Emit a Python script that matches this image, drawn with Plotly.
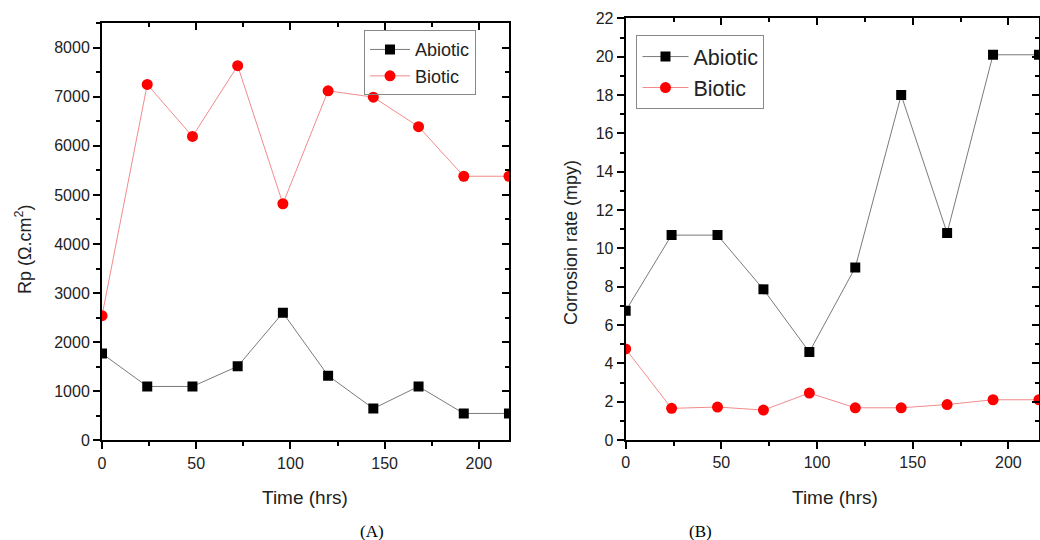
import plotly.graph_objects as go

time_hrs = [0, 24, 48, 72, 96, 120, 144, 168, 192, 216]
rp_abiotic = [1770, 1100, 1100, 1510, 2600, 1320, 650, 1100, 550, 550]
rp_biotic = [2540, 7250, 6190, 7630, 4820, 7120, 6990, 6390, 5380, 5380]
cr_abiotic = [6.74, 10.69, 10.69, 7.86, 4.59, 9.0, 18.0, 10.8, 20.1, 20.1]
cr_biotic = [4.75, 1.65, 1.72, 1.56, 2.45, 1.68, 1.68, 1.85, 2.10, 2.10]

x_ticks = [0, 50, 100, 150, 200]
rp_ticks = [0, 1000, 2000, 3000, 4000, 5000, 6000, 7000, 8000]
cr_ticks = [0, 2, 4, 6, 8, 10, 12, 14, 16, 18, 20, 22]

FONT = "Arial, Liberation Sans, sans-serif"
ab_line = "#7a7a7a"
bi_line = "#f28b8b"

fig = go.Figure()

fig.add_trace(go.Scatter(x=time_hrs, y=rp_abiotic, name="Abiotic", mode="lines+markers",
                         line=dict(color=ab_line, width=1),
                         marker=dict(symbol="square", size=10, color="black"),
                         xaxis="x", yaxis="y", legend="legend"))
fig.add_trace(go.Scatter(x=time_hrs, y=rp_biotic, name="Biotic", mode="lines+markers",
                         line=dict(color=bi_line, width=1),
                         marker=dict(symbol="circle", size=11, color="#ff0000"),
                         xaxis="x", yaxis="y", legend="legend"))
fig.add_trace(go.Scatter(x=time_hrs, y=cr_abiotic, name="Abiotic", mode="lines+markers",
                         line=dict(color=ab_line, width=1),
                         marker=dict(symbol="square", size=10, color="black"),
                         xaxis="x2", yaxis="y2", legend="legend2"))
fig.add_trace(go.Scatter(x=time_hrs, y=cr_biotic, name="Biotic", mode="lines+markers",
                         line=dict(color=bi_line, width=1),
                         marker=dict(symbol="circle", size=11, color="#ff0000"),
                         xaxis="x2", yaxis="y2", legend="legend2"))

# invisible helper traces so the mirrored (top/right) tick axes get drawn
for xa, ya, yv in (("x3", "y3", rp_biotic), ("x4", "y4", cr_abiotic)):
    fig.add_trace(go.Scatter(x=time_hrs, y=yv, mode="markers", marker=dict(opacity=0),
                             showlegend=False, hoverinfo="skip", xaxis=xa, yaxis=ya))

tickfont = dict(family=FONT, size=16, color="#222")

def main_x(domain, anchor):
    return dict(domain=domain, anchor=anchor, range=[0, 216], tickvals=x_ticks,
                ticks="outside", ticklen=7, tickwidth=1.5, tickcolor="black",
                minor=dict(dtick=25, tick0=0, ticks="outside", ticklen=4, tickwidth=1.5, tickcolor="black"),
                showline=True, linewidth=2, linecolor="black", showgrid=False, zeroline=False,
                tickfont=tickfont, automargin=False, mirror=True)

def main_y(domain, anchor, rng, vals, minor_dt):
    return dict(domain=domain, anchor=anchor, range=rng, tickvals=vals,
                ticks="outside", ticklen=7, tickwidth=1.5, tickcolor="black",
                minor=dict(dtick=minor_dt, tick0=0, ticks="outside", ticklen=4, tickwidth=1.5, tickcolor="black"),
                showline=True, linewidth=2, linecolor="black", showgrid=False, zeroline=False,
                tickfont=tickfont, automargin=False, mirror=True)

def mirror_x(domain, anchor):
    return dict(domain=domain, anchor=anchor, side="top", range=[0, 216], tickvals=x_ticks,
                ticks="inside", ticklen=7, tickwidth=1.5, tickcolor="black",
                minor=dict(dtick=25, tick0=0, ticks="inside", ticklen=4, tickwidth=1.5, tickcolor="black"),
                showticklabels=False, showline=False,
                showgrid=False, zeroline=False, automargin=False)

def mirror_y(domain, anchor, rng, vals, minor_dt):
    return dict(domain=domain, anchor=anchor, side="right", range=rng, tickvals=vals,
                ticks="inside", ticklen=7, tickwidth=1.5, tickcolor="black",
                minor=dict(dtick=minor_dt, tick0=0, ticks="inside", ticklen=4, tickwidth=1.5, tickcolor="black"),
                showticklabels=False, showline=False,
                showgrid=False, zeroline=False, automargin=False)

dxA = [0.0981, 0.4894]
dyA = [0.1843, 0.9574]
dxB = [0.6016, 0.999]
dyB = [0.1852, 0.966]

fig.update_layout(
    width=1040, height=540,
    margin=dict(l=0, r=0, t=0, b=0, autoexpand=False),
    paper_bgcolor="white", plot_bgcolor="rgba(0,0,0,0)",
    font=dict(family=FONT, color="#222"),
    xaxis=main_x(dxA, "y"),
    yaxis=main_y(dyA, "x", [0, 8500], rp_ticks, 500),
    xaxis2=main_x(dxB, "y2"),
    yaxis2=main_y(dyB, "x2", [0, 22], cr_ticks, 1),
    xaxis3=mirror_x(dxA, "y3"),
    yaxis3=mirror_y(dyA, "x3", [0, 8500], rp_ticks, 500),
    xaxis4=mirror_x(dxB, "y4"),
    yaxis4=mirror_y(dyB, "x4", [0, 22], cr_ticks, 1),
    legend=dict(x=0.35, y=0.944, xanchor="left", yanchor="top",
                bordercolor="#888", borderwidth=1, bgcolor="rgba(255,255,255,0)",
                font=dict(family=FONT, size=18, color="#222"), tracegroupgap=0,
                itemwidth=40),
    legend2=dict(x=0.612, y=0.935, xanchor="left", yanchor="top",
                 bordercolor="#888", borderwidth=1, bgcolor="rgba(255,255,255,0)",
                 font=dict(family=FONT, size=21.5, color="#222"), tracegroupgap=0,
                 itemwidth=46),
    showlegend=True,
)

annos = [
    dict(text="Rp (Ω.cm<sup>2</sup>)", x=23/1040, y=1-250/540, textangle=-90,
         font=dict(family=FONT, size=18, color="#222")),
    dict(text="Corrosion rate (mpy)", x=571/1040, y=1-243/540, textangle=-90,
         font=dict(family=FONT, size=18, color="#222")),
    dict(text="Time (hrs)", x=305/1040, y=1-497/540,
         font=dict(family=FONT, size=19, color="#222")),
    dict(text="Time (hrs)", x=835/1040, y=1-497/540,
         font=dict(family=FONT, size=19, color="#222")),
    dict(text="(A)", x=372/1040, y=1-531/540,
         font=dict(family="Liberation Serif, Times New Roman, serif", size=17, color="black")),
    dict(text="(B)", x=700/1040, y=1-531/540,
         font=dict(family="Liberation Serif, Times New Roman, serif", size=17, color="black")),
]
for a in annos:
    fig.add_annotation(xref="paper", yref="paper", showarrow=False,
                       xanchor="center", yanchor="middle", **a)

fig.write_html("out.html")
